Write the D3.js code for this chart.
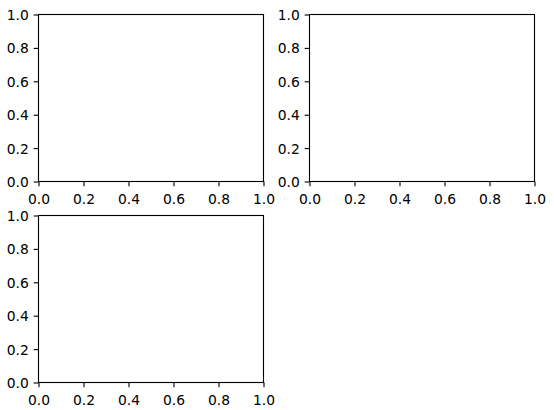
<!DOCTYPE html>
<html>
<head>
<meta charset="utf-8">
<script src="https://cdn.jsdelivr.net/npm/d3@7"></script>
<style>
  body { margin: 0; background: #fff; }
  svg { display: block; }
  .tick text { font-family: "DejaVu Sans", sans-serif; font-size: 13.89px; fill: #000; }
</style>
</head>
<body>
<svg width="554" height="410"></svg>
<script>
// data: three empty subplots, default 0..1 axes
const panels = ["ax1", "ax2", "ax3"];
const xDomain = [0, 1];
const yDomain = [0, 1];
const tickValues = [0, 0.2, 0.4, 0.6, 0.8, 1.0];

// layout (pixels)
const colX = [38.5, 309.5];
const rowY = [14.5, 215.5];
const axW = 225, axH = 167;
const tickLen = 4.86, tickPad = 4.86, lw = 1.11;
const grid = [[0, 0], [0, 1], [1, 0]];

let svg = d3.select("svg");

panels.forEach(function(name, i) {
  let r = grid[i][0], c = grid[i][1];
  let g = svg.append("g")
    .attr("class", name)
    .attr("transform", "translate(" + colX[c] + "," + rowY[r] + ")");

  let x = d3.scaleLinear().domain(xDomain).range([0, axW]);
  let y = d3.scaleLinear().domain(yDomain).range([axH, 0]);

  let xAxis = g.append("g")
    .attr("transform", "translate(0," + axH + ")")
    .call(d3.axisBottom(x).tickValues(tickValues).tickFormat(d3.format(".1f"))
      .tickSize(tickLen).tickPadding(tickPad));
  let yAxis = g.append("g")
    .call(d3.axisLeft(y).tickValues(tickValues).tickFormat(d3.format(".1f"))
      .tickSize(tickLen).tickPadding(tickPad));

  // matplotlib puts x labels a little lower than d3's default
  xAxis.selectAll(".tick text").attr("dy", "0.89em");
  yAxis.selectAll(".tick text").attr("dy", "0.36em");

  [xAxis, yAxis].forEach(function(a) {
    a.select(".domain").remove();
    a.selectAll(".tick line").attr("stroke", "#000").attr("stroke-width", lw);
  });

  // frame
  g.append("rect")
    .attr("x", 0).attr("y", 0)
    .attr("width", axW).attr("height", axH)
    .attr("fill", "none")
    .attr("stroke", "#000")
    .attr("stroke-width", lw);
});
</script>
</body>
</html>
